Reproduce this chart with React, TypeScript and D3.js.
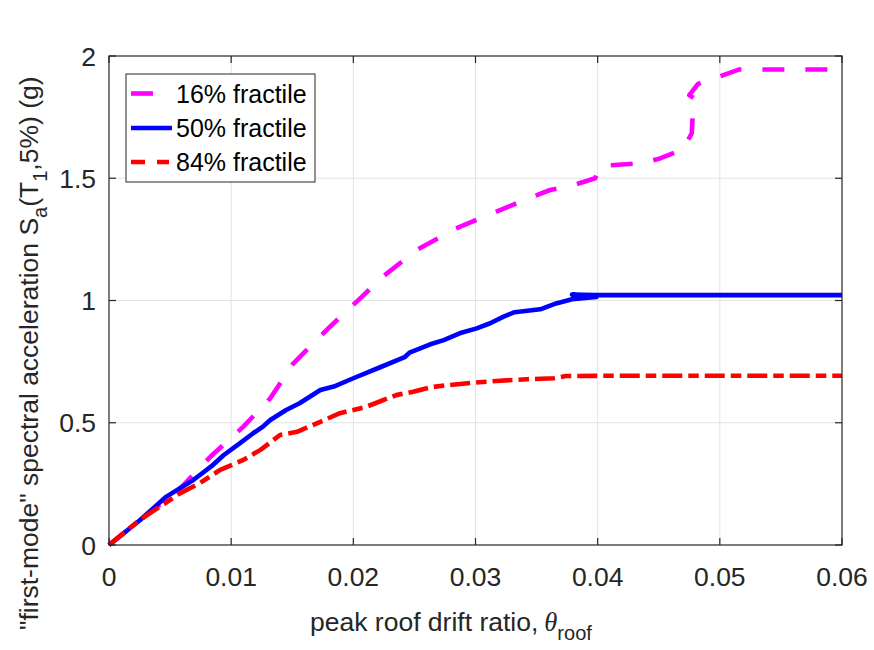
import React from "react";
import * as d3 from "d3";

// Incremental dynamic analysis fractile curves: Sa(T1,5%) vs peak roof drift ratio
const drift16 = [0, 0.0025, 0.0052, 0.0060, 0.0083, 0.0110, 0.0132, 0.0151, 0.0178, 0.0208, 0.0224, 0.0252, 0.0284, 0.0314, 0.0347, 0.0361, 0.0380, 0.0398, 0.0402, 0.0417, 0.0437, 0.0451, 0.0470, 0.0474, 0.0477, 0.0478, 0.0479, 0.0475, 0.0482, 0.0492, 0.0499, 0.0516, 0.0600];
const sa16 = [0, 0.100, 0.205, 0.240, 0.361, 0.484, 0.600, 0.743, 0.879, 1.020, 1.097, 1.207, 1.295, 1.357, 1.425, 1.452, 1.472, 1.500, 1.550, 1.555, 1.562, 1.581, 1.618, 1.656, 1.684, 1.779, 1.827, 1.840, 1.885, 1.905, 1.915, 1.945, 1.945];

const drift50 = [0, 0.0025, 0.0047, 0.0069, 0.0085, 0.0094, 0.0107, 0.0118, 0.0126, 0.0132, 0.0145, 0.0156, 0.0173, 0.0184, 0.0200, 0.0222, 0.0242, 0.0246, 0.0263, 0.0274, 0.0287, 0.0301, 0.0312, 0.0323, 0.0332, 0.0353, 0.0366, 0.0379, 0.0399, 0.0379, 0.0399, 0.0600];
const sa50 = [0, 0.100, 0.198, 0.266, 0.327, 0.368, 0.416, 0.457, 0.484, 0.511, 0.552, 0.580, 0.634, 0.648, 0.682, 0.727, 0.768, 0.787, 0.821, 0.838, 0.866, 0.886, 0.907, 0.934, 0.952, 0.964, 0.988, 1.005, 1.014, 1.024, 1.022, 1.022];

const drift84 = [0, 0.0025, 0.0058, 0.0074, 0.0091, 0.0110, 0.0124, 0.0140, 0.0154, 0.0173, 0.0189, 0.0211, 0.0235, 0.0249, 0.0263, 0.0276, 0.0298, 0.0320, 0.0342, 0.0364, 0.0374, 0.0402, 0.0600];
const sa84 = [0, 0.102, 0.211, 0.252, 0.307, 0.348, 0.389, 0.450, 0.463, 0.504, 0.539, 0.566, 0.613, 0.627, 0.645, 0.653, 0.664, 0.672, 0.678, 0.682, 0.691, 0.692, 0.692];

const xTicks = [0, 0.01, 0.02, 0.03, 0.04, 0.05, 0.06];
const yTicks = [0, 0.5, 1, 1.5, 2];
const xTickLabels = ["0", "0.01", "0.02", "0.03", "0.04", "0.05", "0.06"];
const yTickLabels = ["0", "0.5", "1", "1.5", "2"];

const seriesNames = ["16% fractile", "50% fractile", "84% fractile"];
const seriesColors = ["#ff00ff", "#0000ff", "#ff0000"];
const seriesDash = ["22 21", "none", "20 6 10.5 6"];

const W = 874;
const H = 650;
const M = { left: 109, right: 842, top: 56, bottom: 545 };
const FONT = "'Liberation Sans', Arial, Helvetica, sans-serif";
const AXIS_COLOR = "#262626";

export default function App() {
  const x = d3.scaleLinear().domain([0, 0.06]).range([M.left, M.right]);
  const y = d3.scaleLinear().domain([0, 2]).range([M.bottom, M.top]);

  const line = d3
    .line<[number, number]>()
    .x((d) => x(d[0]))
    .y((d) => y(d[1]));

  const series = [
    d3.zip(drift16, sa16) as [number, number][],
    d3.zip(drift50, sa50) as [number, number][],
    d3.zip(drift84, sa84) as [number, number][],
  ];

  const tickLen = 7;
  const legend = { x: 126, y: 74, w: 189, h: 108 };
  const rowY = [93.5, 128, 162];

  return (
    <svg
      width={W}
      height={H}
      style={{ position: "absolute", left: 0, top: 0, background: "#fff" }}
      fontFamily={FONT}
    >
      <rect x={0} y={0} width={W} height={H} fill="#fff" />

      {/* grid */}
      <g stroke="#e3e3e3" strokeWidth={1}>
        {xTicks.slice(1, -1).map((t) => (
          <line key={"gx" + t} x1={x(t)} x2={x(t)} y1={M.top} y2={M.bottom} />
        ))}
        {yTicks.slice(1, -1).map((t) => (
          <line key={"gy" + t} x1={M.left} x2={M.right} y1={y(t)} y2={y(t)} />
        ))}
      </g>

      {/* data */}
      <g fill="none" strokeWidth={4.6} strokeLinejoin="round">
        {series.map((s, i) => (
          <path
            key={seriesNames[i]}
            d={line(s) || ""}
            stroke={seriesColors[i]}
            strokeDasharray={seriesDash[i]}
          />
        ))}
      </g>

      {/* axes box and ticks */}
      <g stroke={AXIS_COLOR} strokeWidth={1.2} fill="none">
        <rect x={M.left} y={M.top} width={M.right - M.left} height={M.bottom - M.top} />
        {xTicks.map((t) => (
          <g key={"tx" + t}>
            <line x1={x(t)} x2={x(t)} y1={M.bottom} y2={M.bottom - tickLen} />
            <line x1={x(t)} x2={x(t)} y1={M.top} y2={M.top + tickLen} />
          </g>
        ))}
        {yTicks.map((t) => (
          <g key={"ty" + t}>
            <line x1={M.left} x2={M.left + tickLen} y1={y(t)} y2={y(t)} />
            <line x1={M.right} x2={M.right - tickLen} y1={y(t)} y2={y(t)} />
          </g>
        ))}
      </g>

      {/* tick labels */}
      <g fill={AXIS_COLOR} fontSize={26.5}>
        {xTicks.map((t, i) => (
          <text key={"lx" + t} x={x(t)} y={586} textAnchor="middle">
            {xTickLabels[i]}
          </text>
        ))}
        {yTicks.map((t, i) => (
          <text key={"ly" + t} x={96} y={y(t) + 9.5} textAnchor="end">
            {yTickLabels[i]}
          </text>
        ))}
      </g>

      {/* x label */}
      <text x={310} y={631} fill={AXIS_COLOR} fontSize={26.5}>
        peak roof drift ratio,
        <tspan dx={6} fontFamily="'Liberation Serif', 'Times New Roman', serif" fontStyle="italic">
          θ
        </tspan>
        <tspan dy={9} fontSize={20}>
          roof
        </tspan>
      </text>

      {/* y label */}
      <text
        transform={`translate(38, 630) rotate(-90)`}
        fill={AXIS_COLOR}
        fontSize={26.5}
      >
        "first-mode" spectral acceleration S
        <tspan dy={9} fontSize={20}>a</tspan>
        <tspan dy={-9}>(T</tspan>
        <tspan dy={9} fontSize={20}>1</tspan>
        <tspan dy={-9}>,5%) (g)</tspan>
      </text>

      {/* legend */}
      <g>
        <rect
          x={legend.x}
          y={legend.y}
          width={legend.w}
          height={legend.h}
          fill="#fff"
          stroke={AXIS_COLOR}
          strokeWidth={1}
        />
        {seriesNames.map((name, i) => (
          <g key={"lg" + name}>
            <line
              x1={131}
              x2={172}
              y1={rowY[i]}
              y2={rowY[i]}
              stroke={seriesColors[i]}
              strokeWidth={4.6}
              strokeDasharray={i === 2 ? "14 12 12 6" : seriesDash[i]}
            />
            <text x={176} y={rowY[i] + 9} fontSize={25} fill="#000">
              {name}
            </text>
          </g>
        ))}
      </g>
    </svg>
  );
}
